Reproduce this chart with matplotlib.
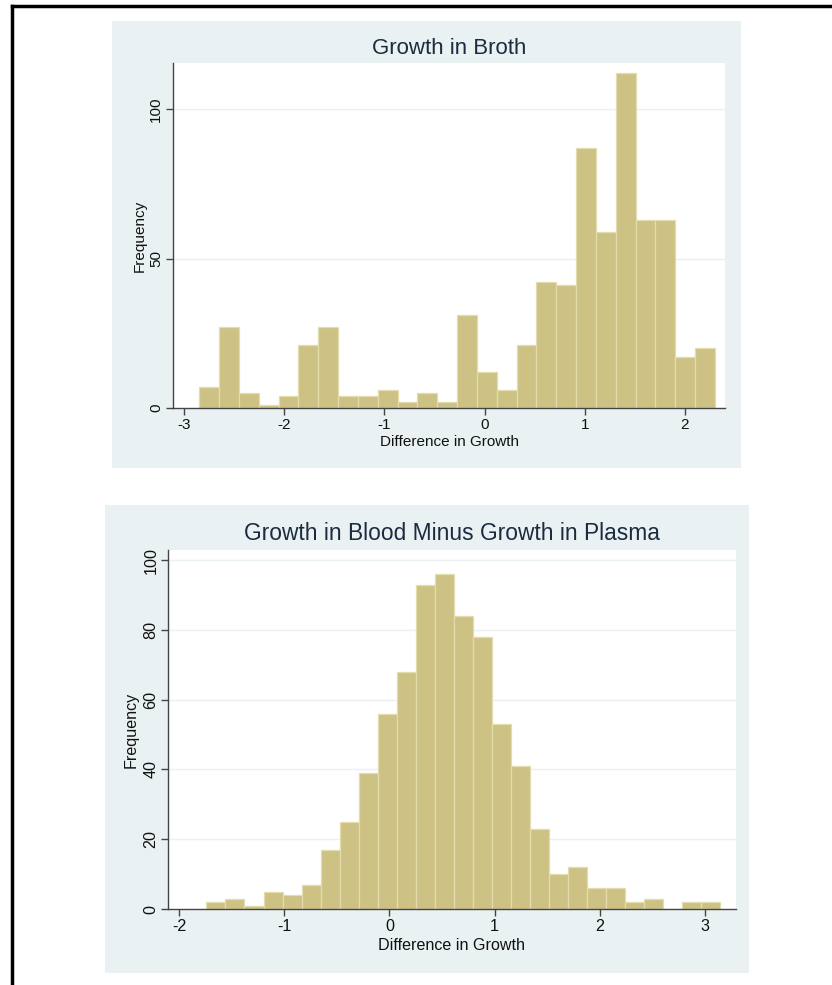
import numpy as np
import matplotlib
matplotlib.use("Agg")
import matplotlib.pyplot as plt
from matplotlib.patches import Rectangle
from matplotlib.lines import Line2D

plt.rcParams['font.family'] = ['Liberation Sans', 'DejaVu Sans']

# broth: counts per bin
broth_start = -2.848
broth_width = 0.198
broth_counts = [7, 27, 5, 1, 4, 21, 27, 4, 4, 6, 2, 5, 2,
                31, 12, 6, 21, 42, 41, 87, 59, 112, 63, 63, 17, 20]
broth_xticks = [-3, -2, -1, 0, 1, 2]
broth_yticks = [0, 50, 100]

# blood minus plasma: counts per bin
blood_start = -1.74
blood_width = 0.181
blood_counts = [2, 3, 1, 5, 4, 7, 17, 25, 39, 56, 68, 93, 96, 84,
                78, 53, 41, 23, 10, 12, 6, 6, 2, 3, 0, 2, 2]
blood_xticks = [-2, -1, 0, 1, 2, 3]
blood_yticks = [0, 20, 40, 60, 80, 100]

W, H = 832, 985
panel_bg = '#eaf1f3'
bar_col = '#cdc283'
bar_edge = '#e2dcae'
title_col = '#1c2b40'
axis_col = '#444444'

fig = plt.figure(figsize=(W / 100, H / 100), dpi=100)
fig.patch.set_facecolor('white')


def px_rect(x0, y0, x1, y1):
    # pixel box (top-left origin) -> figure fraction [left, bottom, w, h]
    return [x0 / W, 1 - y1 / H, (x1 - x0) / W, (y1 - y0) / H]


def panel(box, ax_box, start, width, counts, xticks, yticks, xlim, ylim,
          title, title_y, title_size, xlabel_y, font_size, ylabel_x):
    l, b, w, h = px_rect(*box)
    fig.add_artist(Rectangle((l, b), w, h, transform=fig.transFigure,
                             facecolor=panel_bg, edgecolor='none', zorder=-10))
    ax = fig.add_axes(px_rect(*ax_box))
    ax.set_facecolor('white')
    edges = start + width * np.arange(len(counts) + 1)
    ax.bar(edges[:-1], counts, width=width, align='edge', color=bar_col,
           edgecolor=bar_edge, linewidth=0.9, zorder=2)
    ax.set_xlim(*xlim)
    ax.set_ylim(*ylim)
    ax.set_xticks(xticks)
    ax.set_yticks(yticks)
    ax.set_xticklabels([str(t) for t in xticks], fontsize=font_size)
    ax.set_yticklabels([str(t) for t in yticks], fontsize=font_size,
                       rotation=90, va='center')
    for t in yticks[1:]:
        ax.axhline(t, color='#eaf1f3', linewidth=1.0, zorder=1)
    for s in ['top', 'right']:
        ax.spines[s].set_visible(False)
    for s in ['left', 'bottom']:
        ax.spines[s].set_color(axis_col)
        ax.spines[s].set_linewidth(1.0)
    ax.tick_params(direction='out', length=5, width=1.0, color=axis_col,
                   pad=2, labelcolor='#111111')
    fig.text((ax_box[0] + ax_box[2]) / 2 / W, 1 - title_y / H, title,
             ha='center', va='center', fontsize=title_size, color=title_col)
    fig.text((ax_box[0] + ax_box[2]) / 2 / W, 1 - xlabel_y / H,
             'Difference in Growth', ha='center', va='center',
             fontsize=font_size, color='#111111')
    fig.text(ylabel_x / W, 1 - (ax_box[1] + ax_box[3]) / 2 / H, 'Frequency',
             ha='center', va='center', rotation=90, fontsize=font_size,
             color='#111111')
    return ax


panel((112, 21, 741, 468), (173, 63, 725, 408), broth_start, broth_width,
      broth_counts, broth_xticks, broth_yticks, (-3.11, 2.40), (0, 115.4),
      'Growth in Broth', 48, 16, 442, 11, 140)

panel((105, 505, 749, 973), (168, 550, 736, 909), blood_start, blood_width,
      blood_counts, blood_xticks, blood_yticks, (-2.105, 3.295), (0, 102.9),
      'Growth in Blood Minus Growth in Plasma', 534, 16.4, 945, 11.6, 131)

# frame lines along the top and left edge
fig.add_artist(Line2D([11.5 / W, 1], [1 - 6 / H, 1 - 6 / H],
                      transform=fig.transFigure, color='black', linewidth=2.5))
fig.add_artist(Line2D([11.5 / W, 11.5 / W], [0, 1 - 6 / H],
                      transform=fig.transFigure, color='black', linewidth=2.5))

fig.savefig('out.png', dpi=100)
